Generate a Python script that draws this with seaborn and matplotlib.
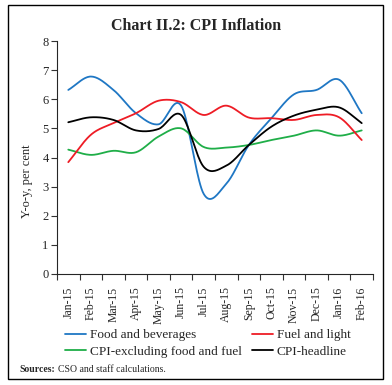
import numpy as np
import pandas as pd
import matplotlib
matplotlib.use("Agg")
import matplotlib.pyplot as plt
from matplotlib.patches import Rectangle
import seaborn as sns

# Data (y-o-y, per cent)
months = ["Jan-15", "Feb-15", "Mar-15", "Apr-15", "May-15", "Jun-15", "Jul-15",
          "Aug-15", "Sep-15", "Oct-15", "Nov-15", "Dec-15", "Jan-16", "Feb-16"]
food = [6.32, 6.78, 6.32, 5.52, 5.14, 5.78, 2.75, 3.1, 4.43, 5.35, 6.17, 6.32, 6.67, 5.52]
fuel = [3.84, 4.78, 5.18, 5.52, 5.95, 5.9, 5.46, 5.78, 5.37, 5.35, 5.29, 5.46, 5.38, 4.6]
core = [4.27, 4.09, 4.23, 4.18, 4.72, 5.0, 4.36, 4.34, 4.43, 4.6, 4.75, 4.93, 4.75, 4.93]
headline = [5.21, 5.38, 5.29, 4.93, 4.98, 5.46, 3.68, 3.72, 4.43, 5.06, 5.44, 5.64, 5.72, 5.18]

series = {
    "Food and beverages": (food, "#1f77c4"),
    "CPI-excluding food and fuel": (core, "#1fae48"),
    "Fuel and light": (fuel, "#ee1c25"),
    "CPI-headline": (headline, "black"),
}


def smooth(vals, n=20):
    # Catmull-Rom style smoothing, like Excel's smoothed line
    y = np.asarray(vals, dtype=float)
    k = len(y)
    m = np.zeros(k)
    m[1:-1] = (y[2:] - y[:-2]) / 2
    m[0] = y[1] - y[0]
    m[-1] = y[-1] - y[-2]
    xs, ys = [], []
    for i in range(k - 1):
        t = np.linspace(0, 1, n, endpoint=False)
        h00 = 2 * t**3 - 3 * t**2 + 1
        h10 = t**3 - 2 * t**2 + t
        h01 = -2 * t**3 + 3 * t**2
        h11 = t**3 - t**2
        xs.extend(i + t)
        ys.extend(h00 * y[i] + h10 * m[i] + h01 * y[i + 1] + h11 * m[i + 1])
    xs.append(k - 1)
    ys.append(y[-1])
    return np.array(xs), np.array(ys)


sns.set_style("ticks")
plt.rcParams["font.family"] = ["Liberation Serif", "DejaVu Serif"]

fig = plt.figure(figsize=(3.92, 3.85), dpi=100)
ax = fig.add_axes([57 / 392, 1 - 274 / 385, (373 - 57) / 392, (274 - 41) / 385])

for name, (vals, col) in series.items():
    xs, ys = smooth(vals)
    sns.lineplot(x=xs, y=ys, ax=ax, color=col, linewidth=1.3, label=name)

ax.set_xlim(-0.5, len(months) - 0.5)
ax.set_ylim(0, 8)
ax.set_yticks(range(0, 9))
ax.set_xticks(np.arange(len(months)))
ax.set_xticklabels(months, rotation=90, fontsize=8.5)
ax.set_xticks(np.arange(-0.5, len(months)), minor=True)
ax.tick_params(axis="x", which="major", length=0, pad=9)
ax.tick_params(axis="x", which="minor", length=4, width=0.8, color="#333333")
ax.tick_params(axis="y", length=4, width=0.8, labelsize=9, pad=2, color="#333333")
ax.set_ylabel("Y-o-y, per cent", fontsize=9)
ax.yaxis.set_label_coords(-0.075, 0.4)
sns.despine(ax=ax)
ax.spines["left"].set_linewidth(0.8)
ax.spines["bottom"].set_linewidth(0.8)

ax.get_legend().remove()
handles, labels = ax.get_legend_handles_labels()
fig.legend(handles, labels, ncol=2, loc="upper left", bbox_to_anchor=(0.166, 0.145),
           frameon=False, fontsize=9.5, handlelength=1.6, handletextpad=0.3,
           columnspacing=0.75, labelspacing=0.3, borderaxespad=0, borderpad=0)

fig.text(0.5, 0.932, "Chart II.2: CPI Inflation", ha="center", va="center",
         fontsize=11.5, fontweight="bold")
fig.text(19 / 392, 1 - 369 / 385, "Sources:", fontsize=7, fontweight="bold", va="center")
fig.text(58 / 392, 1 - 369 / 385, "CSO and staff calculations.", fontsize=7, va="center")

fig.patches.append(Rectangle((8 / 392, 6 / 385), 375 / 392, 374 / 385,
                             transform=fig.transFigure, fill=False,
                             edgecolor="black", linewidth=1))

fig.savefig("out.png", dpi=100)
